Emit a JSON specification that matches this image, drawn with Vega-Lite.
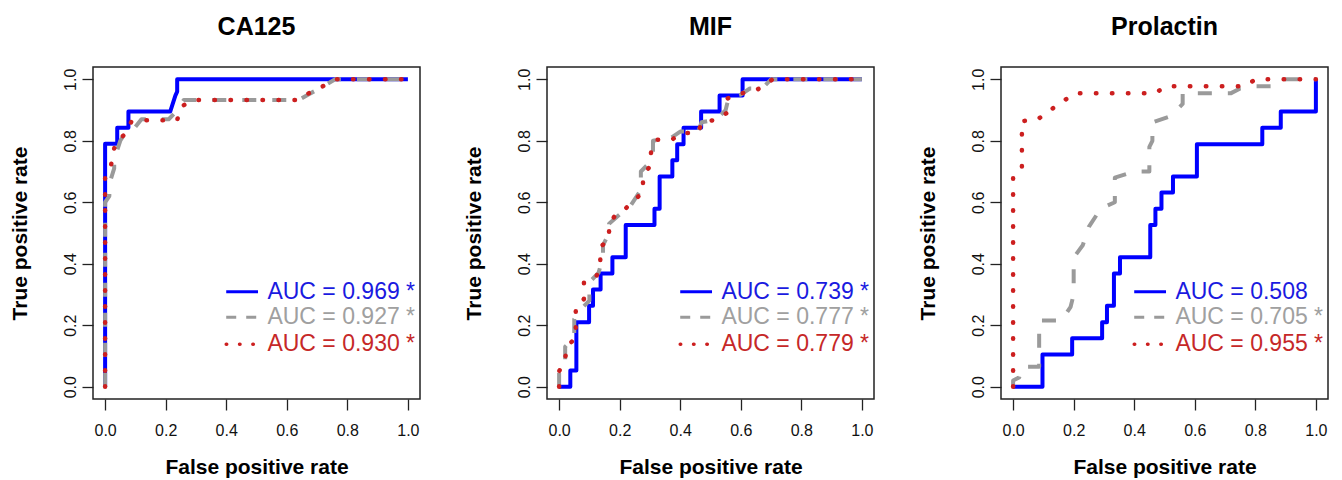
{
"$schema": "https://vega.github.io/schema/vega-lite/v6.json",
"padding": {"left": 8, "top": 15, "right": 5, "bottom": 0},
"background": "white",
"datasets": {"all": [
{"panel":"CA125","series":"m1","fpr":0,"tpr":0},{"panel":"CA125","series":"m1","fpr":0,"tpr":0.79},{"panel":"CA125","series":"m1","fpr":0.04,"tpr":0.79},{"panel":"CA125","series":"m1","fpr":0.04,"tpr":0.842},{"panel":"CA125","series":"m1","fpr":0.077,"tpr":0.842},{"panel":"CA125","series":"m1","fpr":0.077,"tpr":0.895},{"panel":"CA125","series":"m1","fpr":0.215,"tpr":0.895},{"panel":"CA125","series":"m1","fpr":0.232,"tpr":0.947},{"panel":"CA125","series":"m1","fpr":0.238,"tpr":0.96},{"panel":"CA125","series":"m1","fpr":0.238,"tpr":1},{"panel":"CA125","series":"m1","fpr":1,"tpr":1},
{"panel":"CA125","series":"m2","fpr":0,"tpr":0},{"panel":"CA125","series":"m2","fpr":0,"tpr":0.6},{"panel":"CA125","series":"m2","fpr":0.014,"tpr":0.62},{"panel":"CA125","series":"m2","fpr":0.014,"tpr":0.66},{"panel":"CA125","series":"m2","fpr":0.03,"tpr":0.71},{"panel":"CA125","series":"m2","fpr":0.03,"tpr":0.74},{"panel":"CA125","series":"m2","fpr":0.05,"tpr":0.8},{"panel":"CA125","series":"m2","fpr":0.063,"tpr":0.82},{"panel":"CA125","series":"m2","fpr":0.1,"tpr":0.845},{"panel":"CA125","series":"m2","fpr":0.12,"tpr":0.87},{"panel":"CA125","series":"m2","fpr":0.21,"tpr":0.87},{"panel":"CA125","series":"m2","fpr":0.23,"tpr":0.89},{"panel":"CA125","series":"m2","fpr":0.26,"tpr":0.933},{"panel":"CA125","series":"m2","fpr":0.64,"tpr":0.933},{"panel":"CA125","series":"m2","fpr":0.67,"tpr":0.95},{"panel":"CA125","series":"m2","fpr":0.715,"tpr":0.974},{"panel":"CA125","series":"m2","fpr":0.76,"tpr":1},{"panel":"CA125","series":"m2","fpr":1,"tpr":1},
{"panel":"CA125","series":"m3","fpr":0,"tpr":0},{"panel":"CA125","series":"m3","fpr":0,"tpr":0.68},{"panel":"CA125","series":"m3","fpr":0.018,"tpr":0.71},{"panel":"CA125","series":"m3","fpr":0.026,"tpr":0.76},{"panel":"CA125","series":"m3","fpr":0.036,"tpr":0.797},{"panel":"CA125","series":"m3","fpr":0.069,"tpr":0.824},{"panel":"CA125","series":"m3","fpr":0.086,"tpr":0.861},{"panel":"CA125","series":"m3","fpr":0.13,"tpr":0.867},{"panel":"CA125","series":"m3","fpr":0.238,"tpr":0.867},{"panel":"CA125","series":"m3","fpr":0.25,"tpr":0.91},{"panel":"CA125","series":"m3","fpr":0.29,"tpr":0.933},{"panel":"CA125","series":"m3","fpr":0.64,"tpr":0.933},{"panel":"CA125","series":"m3","fpr":0.663,"tpr":0.95},{"panel":"CA125","series":"m3","fpr":0.713,"tpr":0.974},{"panel":"CA125","series":"m3","fpr":0.762,"tpr":1},{"panel":"CA125","series":"m3","fpr":1,"tpr":1},
{"panel":"MIF","series":"m1","fpr":0,"tpr":0},{"panel":"MIF","series":"m1","fpr":0.037,"tpr":0},{"panel":"MIF","series":"m1","fpr":0.037,"tpr":0.053},{"panel":"MIF","series":"m1","fpr":0.057,"tpr":0.053},{"panel":"MIF","series":"m1","fpr":0.057,"tpr":0.21},{"panel":"MIF","series":"m1","fpr":0.099,"tpr":0.21},{"panel":"MIF","series":"m1","fpr":0.099,"tpr":0.263},{"panel":"MIF","series":"m1","fpr":0.112,"tpr":0.263},{"panel":"MIF","series":"m1","fpr":0.112,"tpr":0.316},{"panel":"MIF","series":"m1","fpr":0.137,"tpr":0.316},{"panel":"MIF","series":"m1","fpr":0.137,"tpr":0.368},{"panel":"MIF","series":"m1","fpr":0.176,"tpr":0.368},{"panel":"MIF","series":"m1","fpr":0.176,"tpr":0.421},{"panel":"MIF","series":"m1","fpr":0.22,"tpr":0.421},{"panel":"MIF","series":"m1","fpr":0.22,"tpr":0.526},{"panel":"MIF","series":"m1","fpr":0.315,"tpr":0.526},{"panel":"MIF","series":"m1","fpr":0.315,"tpr":0.579},{"panel":"MIF","series":"m1","fpr":0.332,"tpr":0.579},{"panel":"MIF","series":"m1","fpr":0.332,"tpr":0.684},{"panel":"MIF","series":"m1","fpr":0.374,"tpr":0.684},{"panel":"MIF","series":"m1","fpr":0.374,"tpr":0.737},{"panel":"MIF","series":"m1","fpr":0.39,"tpr":0.737},{"panel":"MIF","series":"m1","fpr":0.39,"tpr":0.789},{"panel":"MIF","series":"m1","fpr":0.411,"tpr":0.789},{"panel":"MIF","series":"m1","fpr":0.411,"tpr":0.842},{"panel":"MIF","series":"m1","fpr":0.469,"tpr":0.842},{"panel":"MIF","series":"m1","fpr":0.469,"tpr":0.895},{"panel":"MIF","series":"m1","fpr":0.53,"tpr":0.895},{"panel":"MIF","series":"m1","fpr":0.53,"tpr":0.947},{"panel":"MIF","series":"m1","fpr":0.606,"tpr":0.947},{"panel":"MIF","series":"m1","fpr":0.606,"tpr":1},{"panel":"MIF","series":"m1","fpr":1,"tpr":1},
{"panel":"MIF","series":"m2","fpr":0,"tpr":0},{"panel":"MIF","series":"m2","fpr":0,"tpr":0.05},{"panel":"MIF","series":"m2","fpr":0.02,"tpr":0.07},{"panel":"MIF","series":"m2","fpr":0.02,"tpr":0.13},{"panel":"MIF","series":"m2","fpr":0.05,"tpr":0.16},{"panel":"MIF","series":"m2","fpr":0.05,"tpr":0.22},{"panel":"MIF","series":"m2","fpr":0.08,"tpr":0.26},{"panel":"MIF","series":"m2","fpr":0.1,"tpr":0.28},{"panel":"MIF","series":"m2","fpr":0.1,"tpr":0.34},{"panel":"MIF","series":"m2","fpr":0.13,"tpr":0.37},{"panel":"MIF","series":"m2","fpr":0.145,"tpr":0.42},{"panel":"MIF","series":"m2","fpr":0.145,"tpr":0.46},{"panel":"MIF","series":"m2","fpr":0.165,"tpr":0.5},{"panel":"MIF","series":"m2","fpr":0.165,"tpr":0.53},{"panel":"MIF","series":"m2","fpr":0.2,"tpr":0.56},{"panel":"MIF","series":"m2","fpr":0.23,"tpr":0.58},{"panel":"MIF","series":"m2","fpr":0.27,"tpr":0.64},{"panel":"MIF","series":"m2","fpr":0.27,"tpr":0.7},{"panel":"MIF","series":"m2","fpr":0.3,"tpr":0.73},{"panel":"MIF","series":"m2","fpr":0.31,"tpr":0.76},{"panel":"MIF","series":"m2","fpr":0.31,"tpr":0.8},{"panel":"MIF","series":"m2","fpr":0.37,"tpr":0.81},{"panel":"MIF","series":"m2","fpr":0.4,"tpr":0.83},{"panel":"MIF","series":"m2","fpr":0.46,"tpr":0.83},{"panel":"MIF","series":"m2","fpr":0.47,"tpr":0.86},{"panel":"MIF","series":"m2","fpr":0.52,"tpr":0.87},{"panel":"MIF","series":"m2","fpr":0.55,"tpr":0.9},{"panel":"MIF","series":"m2","fpr":0.56,"tpr":0.94},{"panel":"MIF","series":"m2","fpr":0.6,"tpr":0.95},{"panel":"MIF","series":"m2","fpr":0.63,"tpr":0.97},{"panel":"MIF","series":"m2","fpr":0.67,"tpr":0.97},{"panel":"MIF","series":"m2","fpr":0.7,"tpr":1},{"panel":"MIF","series":"m2","fpr":1,"tpr":1},
{"panel":"MIF","series":"m3","fpr":0,"tpr":0},{"panel":"MIF","series":"m3","fpr":0,"tpr":0.05},{"panel":"MIF","series":"m3","fpr":0.019,"tpr":0.086},{"panel":"MIF","series":"m3","fpr":0.026,"tpr":0.13},{"panel":"MIF","series":"m3","fpr":0.055,"tpr":0.16},{"panel":"MIF","series":"m3","fpr":0.055,"tpr":0.26},{"panel":"MIF","series":"m3","fpr":0.082,"tpr":0.285},{"panel":"MIF","series":"m3","fpr":0.082,"tpr":0.339},{"panel":"MIF","series":"m3","fpr":0.123,"tpr":0.357},{"panel":"MIF","series":"m3","fpr":0.136,"tpr":0.404},{"panel":"MIF","series":"m3","fpr":0.136,"tpr":0.454},{"panel":"MIF","series":"m3","fpr":0.165,"tpr":0.48},{"panel":"MIF","series":"m3","fpr":0.165,"tpr":0.53},{"panel":"MIF","series":"m3","fpr":0.189,"tpr":0.562},{"panel":"MIF","series":"m3","fpr":0.222,"tpr":0.582},{"panel":"MIF","series":"m3","fpr":0.25,"tpr":0.608},{"panel":"MIF","series":"m3","fpr":0.277,"tpr":0.633},{"panel":"MIF","series":"m3","fpr":0.277,"tpr":0.684},{"panel":"MIF","series":"m3","fpr":0.299,"tpr":0.716},{"panel":"MIF","series":"m3","fpr":0.304,"tpr":0.765},{"panel":"MIF","series":"m3","fpr":0.319,"tpr":0.803},{"panel":"MIF","series":"m3","fpr":0.372,"tpr":0.803},{"panel":"MIF","series":"m3","fpr":0.403,"tpr":0.825},{"panel":"MIF","series":"m3","fpr":0.458,"tpr":0.825},{"panel":"MIF","series":"m3","fpr":0.473,"tpr":0.862},{"panel":"MIF","series":"m3","fpr":0.519,"tpr":0.868},{"panel":"MIF","series":"m3","fpr":0.552,"tpr":0.889},{"panel":"MIF","series":"m3","fpr":0.555,"tpr":0.937},{"panel":"MIF","series":"m3","fpr":0.592,"tpr":0.953},{"panel":"MIF","series":"m3","fpr":0.64,"tpr":0.96},{"panel":"MIF","series":"m3","fpr":0.676,"tpr":0.977},{"panel":"MIF","series":"m3","fpr":0.705,"tpr":1},{"panel":"MIF","series":"m3","fpr":1,"tpr":1},
{"panel":"Prolactin","series":"m1","fpr":0,"tpr":0},{"panel":"Prolactin","series":"m1","fpr":0.097,"tpr":0},{"panel":"Prolactin","series":"m1","fpr":0.097,"tpr":0.105},{"panel":"Prolactin","series":"m1","fpr":0.195,"tpr":0.105},{"panel":"Prolactin","series":"m1","fpr":0.195,"tpr":0.158},{"panel":"Prolactin","series":"m1","fpr":0.294,"tpr":0.158},{"panel":"Prolactin","series":"m1","fpr":0.294,"tpr":0.21},{"panel":"Prolactin","series":"m1","fpr":0.31,"tpr":0.21},{"panel":"Prolactin","series":"m1","fpr":0.31,"tpr":0.263},{"panel":"Prolactin","series":"m1","fpr":0.333,"tpr":0.263},{"panel":"Prolactin","series":"m1","fpr":0.333,"tpr":0.368},{"panel":"Prolactin","series":"m1","fpr":0.353,"tpr":0.368},{"panel":"Prolactin","series":"m1","fpr":0.353,"tpr":0.421},{"panel":"Prolactin","series":"m1","fpr":0.453,"tpr":0.421},{"panel":"Prolactin","series":"m1","fpr":0.453,"tpr":0.526},{"panel":"Prolactin","series":"m1","fpr":0.47,"tpr":0.526},{"panel":"Prolactin","series":"m1","fpr":0.47,"tpr":0.579},{"panel":"Prolactin","series":"m1","fpr":0.49,"tpr":0.579},{"panel":"Prolactin","series":"m1","fpr":0.49,"tpr":0.632},{"panel":"Prolactin","series":"m1","fpr":0.528,"tpr":0.632},{"panel":"Prolactin","series":"m1","fpr":0.528,"tpr":0.684},{"panel":"Prolactin","series":"m1","fpr":0.607,"tpr":0.684},{"panel":"Prolactin","series":"m1","fpr":0.607,"tpr":0.789},{"panel":"Prolactin","series":"m1","fpr":0.823,"tpr":0.789},{"panel":"Prolactin","series":"m1","fpr":0.823,"tpr":0.842},{"panel":"Prolactin","series":"m1","fpr":0.884,"tpr":0.842},{"panel":"Prolactin","series":"m1","fpr":0.884,"tpr":0.895},{"panel":"Prolactin","series":"m1","fpr":1,"tpr":0.895},{"panel":"Prolactin","series":"m1","fpr":1,"tpr":1},
{"panel":"Prolactin","series":"m2","fpr":0,"tpr":0},{"panel":"Prolactin","series":"m2","fpr":0,"tpr":0.02},{"panel":"Prolactin","series":"m2","fpr":0.02,"tpr":0.03},{"panel":"Prolactin","series":"m2","fpr":0.03,"tpr":0.065},{"panel":"Prolactin","series":"m2","fpr":0.086,"tpr":0.065},{"panel":"Prolactin","series":"m2","fpr":0.086,"tpr":0.215},{"panel":"Prolactin","series":"m2","fpr":0.16,"tpr":0.215},{"panel":"Prolactin","series":"m2","fpr":0.19,"tpr":0.26},{"panel":"Prolactin","series":"m2","fpr":0.2,"tpr":0.3},{"panel":"Prolactin","series":"m2","fpr":0.2,"tpr":0.42},{"panel":"Prolactin","series":"m2","fpr":0.23,"tpr":0.46},{"panel":"Prolactin","series":"m2","fpr":0.25,"tpr":0.52},{"panel":"Prolactin","series":"m2","fpr":0.29,"tpr":0.58},{"panel":"Prolactin","series":"m2","fpr":0.336,"tpr":0.6},{"panel":"Prolactin","series":"m2","fpr":0.336,"tpr":0.68},{"panel":"Prolactin","series":"m2","fpr":0.4,"tpr":0.7},{"panel":"Prolactin","series":"m2","fpr":0.45,"tpr":0.7},{"panel":"Prolactin","series":"m2","fpr":0.45,"tpr":0.78},{"panel":"Prolactin","series":"m2","fpr":0.46,"tpr":0.8},{"panel":"Prolactin","series":"m2","fpr":0.46,"tpr":0.86},{"panel":"Prolactin","series":"m2","fpr":0.52,"tpr":0.88},{"panel":"Prolactin","series":"m2","fpr":0.56,"tpr":0.92},{"panel":"Prolactin","series":"m2","fpr":0.56,"tpr":0.955},{"panel":"Prolactin","series":"m2","fpr":0.72,"tpr":0.955},{"panel":"Prolactin","series":"m2","fpr":0.75,"tpr":0.97},{"panel":"Prolactin","series":"m2","fpr":0.8,"tpr":0.977},{"panel":"Prolactin","series":"m2","fpr":0.87,"tpr":0.977},{"panel":"Prolactin","series":"m2","fpr":0.9,"tpr":1},{"panel":"Prolactin","series":"m2","fpr":1,"tpr":1},
{"panel":"Prolactin","series":"m3","fpr":0,"tpr":0},{"panel":"Prolactin","series":"m3","fpr":0,"tpr":0.684},{"panel":"Prolactin","series":"m3","fpr":0.029,"tpr":0.71},{"panel":"Prolactin","series":"m3","fpr":0.029,"tpr":0.864},{"panel":"Prolactin","series":"m3","fpr":0.078,"tpr":0.868},{"panel":"Prolactin","series":"m3","fpr":0.11,"tpr":0.89},{"panel":"Prolactin","series":"m3","fpr":0.14,"tpr":0.912},{"panel":"Prolactin","series":"m3","fpr":0.173,"tpr":0.934},{"panel":"Prolactin","series":"m3","fpr":0.204,"tpr":0.955},{"panel":"Prolactin","series":"m3","fpr":0.47,"tpr":0.955},{"panel":"Prolactin","series":"m3","fpr":0.503,"tpr":0.977},{"panel":"Prolactin","series":"m3","fpr":0.766,"tpr":0.977},{"panel":"Prolactin","series":"m3","fpr":0.8,"tpr":1},{"panel":"Prolactin","series":"m3","fpr":1,"tpr":1},
{"panel":"CA125","series":"m1","label":"AUC = 0.969 *"},{"panel":"CA125","series":"m2","label":"AUC = 0.927 *"},{"panel":"CA125","series":"m3","label":"AUC = 0.930 *"},
{"panel":"MIF","series":"m1","label":"AUC = 0.739 *"},{"panel":"MIF","series":"m2","label":"AUC = 0.777 *"},{"panel":"MIF","series":"m3","label":"AUC = 0.779 *"},
{"panel":"Prolactin","series":"m1","label":"AUC = 0.508"},{"panel":"Prolactin","series":"m2","label":"AUC = 0.705 *"},{"panel":"Prolactin","series":"m3","label":"AUC = 0.955 *"}
]},
"data": {"name": "all"},
"facet": {"column": {"field": "panel", "type": "nominal", "sort": ["CA125", "MIF", "Prolactin"],
  "header": {"title": null, "labelFontSize": 25, "labelFontWeight": "bold", "labelFont": "Liberation Sans", "labelColor": "black", "labelPadding": 27}}},
"spacing": 127,
"bounds": "flush",
"resolve": {"axis": {"x": "independent", "y": "independent"}},
"spec": {
  "width": 327, "height": 332,
  "layer": [
    {"transform": [{"filter": "isValid(datum.fpr) && datum.series == 'm1'"}],
     "mark": {"type": "line", "color": "#0000FF", "strokeWidth": 4, "strokeJoin": "round"},
     "encoding": {
       "x": {"field": "fpr", "type": "quantitative", "title": "False positive rate", "scale": {"domain": [-0.04, 1.04], "nice": false, "zero": false}, "axis": {"values": [0, 0.2, 0.4, 0.6, 0.8, 1], "format": ".1f"}},
       "y": {"field": "tpr", "type": "quantitative", "title": "True positive rate", "scale": {"domain": [-0.04, 1.04], "nice": false, "zero": false}, "axis": {"values": [0, 0.2, 0.4, 0.6, 0.8, 1], "format": ".1f"}},
       "order": {"value": null}}},
    {"transform": [{"filter": "isValid(datum.fpr) && datum.series == 'm2'"}],
     "mark": {"type": "line", "color": "#9A9A9A", "strokeWidth": 4, "strokeDash": [14, 16], "strokeCap": "butt", "strokeJoin": "round"},
     "encoding": {
       "x": {"field": "fpr", "type": "quantitative", "title": "False positive rate"},
       "y": {"field": "tpr", "type": "quantitative", "title": "True positive rate"},
       "order": {"value": null}}},
    {"transform": [{"filter": "isValid(datum.fpr) && datum.series == 'm3'"}],
     "mark": {"type": "line", "color": "#CC1F1F", "strokeWidth": 4.5, "strokeDash": [0.5, 15.5], "strokeCap": "round", "strokeJoin": "round"},
     "encoding": {
       "x": {"field": "fpr", "type": "quantitative", "title": "False positive rate"},
       "y": {"field": "tpr", "type": "quantitative", "title": "True positive rate"},
       "order": {"value": null}}},
    {"transform": [{"filter": "isValid(datum.label) && datum.series == 'm1'"}],
     "mark": {"type": "rule", "color": "#0000FF", "strokeWidth": 3},
     "encoding": {"x": {"datum": 0.40, "type": "quantitative", "title": "False positive rate"}, "x2": {"datum": 0.505}, "y": {"datum": 0.309, "type": "quantitative", "title": "True positive rate"}}},
    {"transform": [{"filter": "isValid(datum.label) && datum.series == 'm2'"}],
     "mark": {"type": "rule", "color": "#9A9A9A", "strokeWidth": 3, "strokeDash": [10, 10], "strokeCap": "butt"},
     "encoding": {"x": {"datum": 0.40, "type": "quantitative", "title": "False positive rate"}, "x2": {"datum": 0.505}, "y": {"datum": 0.226, "type": "quantitative", "title": "True positive rate"}}},
    {"transform": [{"filter": "isValid(datum.label) && datum.series == 'm3'"}],
     "mark": {"type": "rule", "color": "#CC1F1F", "strokeWidth": 3.5, "strokeDash": [0.5, 12.8], "strokeCap": "round"},
     "encoding": {"x": {"datum": 0.40, "type": "quantitative", "title": "False positive rate"}, "x2": {"datum": 0.505}, "y": {"datum": 0.138, "type": "quantitative", "title": "True positive rate"}}},
    {"transform": [{"filter": "isValid(datum.label) && datum.series == 'm1'"}],
     "mark": {"type": "text", "color": "#1A1AE0", "fontSize": 23, "align": "left", "baseline": "middle", "font": "Liberation Sans"},
     "encoding": {"x": {"datum": 0.536, "type": "quantitative", "title": "False positive rate"}, "y": {"datum": 0.309, "type": "quantitative", "title": "True positive rate"}, "text": {"field": "label"}}},
    {"transform": [{"filter": "isValid(datum.label) && datum.series == 'm2'"}],
     "mark": {"type": "text", "color": "#A0A0A0", "fontSize": 23, "align": "left", "baseline": "middle", "font": "Liberation Sans"},
     "encoding": {"x": {"datum": 0.536, "type": "quantitative", "title": "False positive rate"}, "y": {"datum": 0.226, "type": "quantitative", "title": "True positive rate"}, "text": {"field": "label"}}},
    {"transform": [{"filter": "isValid(datum.label) && datum.series == 'm3'"}],
     "mark": {"type": "text", "color": "#C62828", "fontSize": 23, "align": "left", "baseline": "middle", "font": "Liberation Sans"},
     "encoding": {"x": {"datum": 0.536, "type": "quantitative", "title": "False positive rate"}, "y": {"datum": 0.138, "type": "quantitative", "title": "True positive rate"}, "text": {"field": "label"}}}
  ]
},
"config": {
  "font": "Liberation Sans",
  "view": {"stroke": "#222222", "strokeWidth": 1.5},
  "axis": {"grid": false, "domain": false, "tickColor": "#222222", "tickSize": 11, "tickWidth": 1.3, "labelFontSize": 16, "labelColor": "#111111", "labelFont": "Liberation Sans", "titleFont": "Liberation Sans", "titleFontSize": 21, "titleFontWeight": "bold", "titleColor": "#000000"},
  "axisX": {"labelPadding": 12, "titlePadding": 18},
  "axisY": {"labelAngle": -90, "labelAlign": "center", "labelBaseline": "bottom", "labelPadding": 4, "titlePadding": 32}
}
}
